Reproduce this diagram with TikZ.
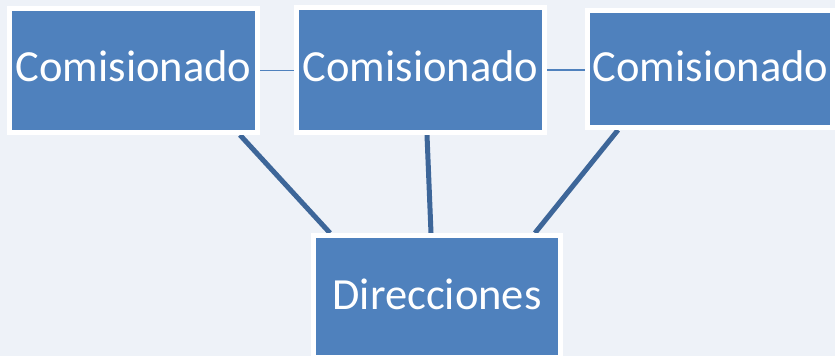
\documentclass[tikz,border=0pt]{standalone}
\usepackage{fontspec}
\setmainfont{Carlito}
\usetikzlibrary{backgrounds}
\definecolor{bgc}{HTML}{EEF2F8}
\definecolor{boxblue}{HTML}{4F81BD}
\definecolor{linkblue}{HTML}{3D6699}
\tikzset{
  box/.style={draw=white, line width=5pt, fill=boxblue, rectangle, inner sep=0pt},
  lbl/.style={anchor=base, text=white, inner sep=0pt, font=\fontsize{44.5}{50}\selectfont},
  thinlink/.style={draw=boxblue, line width=1.8pt},
  thicklink/.style={draw=linkblue, line width=5pt},
}
\begin{document}
\begin{tikzpicture}[x=1pt,y=1pt]
\useasboundingbox (0,0) rectangle (835,356);
\node[box, minimum width=248pt, minimum height=124pt] (c1) at (133.5,285.5) {};
\node[box, minimum width=248pt, minimum height=125pt] (c2) at (420.5,286) {};
\node[box, minimum width=245pt, minimum height=117pt] (c3) at (710,287) {};
\node[box, minimum width=247pt, minimum height=122pt] (d) at (437,59.5) {};
\node[lbl] (t1) at (133.5,274) {Comisionado};
\node[lbl] (t2) at (420.5,274) {Comisionado};
\node[lbl] (t3) at (710.5,274) {Comisionado};
\node[lbl] (t4) at (437,46) {Direcciones};
\begin{pgfonlayer}{background}
\fill[bgc] (0,0) rectangle (835,356);
\draw[thinlink] (c1.east) -- (c1.east -| c2.west);
\draw[thinlink] (c2.east) -- (c2.east -| c3.west);
\draw[thicklink] ([xshift=106.5pt]c1.south) -- ([xshift=-107pt]d.north);
\draw[thicklink] ([xshift=6.5pt]c2.south) -- ([xshift=-6pt]d.north);
\draw[thicklink] ([xshift=-92pt]c3.south) -- ([xshift=98pt]d.north);
\end{pgfonlayer}
\end{tikzpicture}
\end{document}
